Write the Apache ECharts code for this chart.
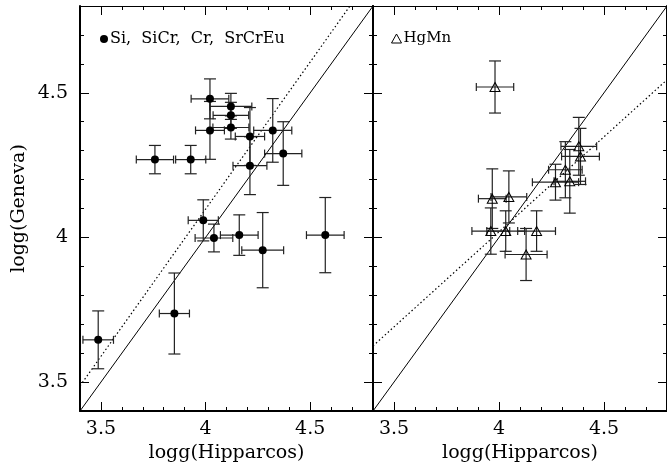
<!DOCTYPE html>
<html>
<head>
<meta charset="utf-8">
<title>logg Hipparcos vs Geneva</title>
<script src="https://cdn.jsdelivr.net/npm/echarts@6/dist/echarts.min.js"></script>
<style>
    html, body { margin: 0; padding: 0; background: #fff; }
    #chart { width: 667px; height: 468px; }
</style>
</head>
<body>
<div id="chart"></div>
<script>
// Si, SiCr, Cr, SrCrEu stars (left panel)
const siX    = [3.758, 3.929, 4.021, 4.021, 4.121, 4.121, 4.121, 4.212, 4.212, 4.321, 4.371, 3.989, 4.040, 4.161, 4.273, 4.572, 3.851, 3.487];
const siY    = [4.269, 4.269, 4.479, 4.370, 4.453, 4.422, 4.380, 4.349, 4.248, 4.370, 4.290, 4.059, 3.998, 4.008, 3.956, 4.008, 3.737, 3.646];
const siXErr = [0.089, 0.072, 0.090, 0.069, 0.100, 0.085, 0.086, 0.070, 0.081, 0.091, 0.089, 0.072, 0.090, 0.090, 0.100, 0.090, 0.072, 0.073];
const siYErr = [0.049, 0.049, 0.069, 0.100, 0.045, 0.045, 0.040, 0.100, 0.100, 0.110, 0.110, 0.071, 0.048, 0.070, 0.130, 0.130, 0.140, 0.100];

// HgMn stars (right panel)
const hgX    = [3.981, 3.968, 4.047, 4.269, 4.337, 4.316, 4.380, 4.388, 3.961, 4.032, 4.179, 4.129];
const hgY    = [4.520, 4.134, 4.140, 4.191, 4.194, 4.234, 4.315, 4.280, 4.022, 4.022, 4.022, 3.941];
const hgXErr = [0.089, 0.066, 0.085, 0.110, 0.075, 0.080, 0.085, 0.090, 0.090, 0.090, 0.090, 0.100];
const hgYErr = [0.090, 0.103, 0.090, 0.062, 0.110, 0.097, 0.100, 0.097, 0.080, 0.070, 0.070, 0.090];

// one-to-one line and the fitted relations (dotted)
const identityLine = [[3.4, 3.4], [4.8, 4.8]];
const siFitLine    = [[3.4, 3.487], [4.69, 4.8]];
const hgFitLine    = [[3.4, 3.625], [4.8, 4.545]];

// ticks
const majorTicks = [3.5, 4, 4.5];
const minorTicks = [3.4, 3.5, 3.6, 3.7, 3.8, 3.9, 4.0, 4.1, 4.2, 4.3, 4.4, 4.5, 4.6, 4.7, 4.8];

const FONT = 'DejaVu Serif';

const chart = echarts.init(document.getElementById('chart'), null, { renderer: 'canvas' });

// Four axes per side-pair: major ticks (with labels) and minor ticks, bottom/top or left/right
function buildAxes(dim, gridIndex, withLabels, name) {
    const first = dim === 'x' ? 'bottom' : 'left';
    const second = dim === 'x' ? 'top' : 'right';
    const base = {
        type: 'value',
        gridIndex: gridIndex,
        min: 3.4,
        max: 4.8,
        splitLine: { show: false }
    };
    return [
        Object.assign({}, base, {
            position: first,
            name: name || '',
            nameLocation: 'middle',
            nameGap: dim === 'x' ? 33 : 51,
            nameTextStyle: { fontFamily: FONT, fontSize: 19, color: '#000' },
            axisLine: { onZero: false, lineStyle: { color: '#000', width: 2 } },
            axisTick: { inside: true, length: 9, customValues: majorTicks, lineStyle: { color: '#000', width: 1 } },
            axisLabel: {
                show: withLabels,
                customValues: majorTicks,
                margin: dim === 'x' ? 9 : 12,
                fontFamily: FONT,
                fontSize: 19,
                color: '#000',
                formatter: v => String(v)
            }
        }),
        Object.assign({}, base, {
            position: first,
            axisLine: { show: false, onZero: false },
            axisTick: { inside: true, length: 4, customValues: minorTicks, lineStyle: { color: '#000', width: 1 } },
            axisLabel: { show: false }
        }),
        Object.assign({}, base, {
            position: second,
            axisLine: { onZero: false, lineStyle: { color: '#000', width: dim === 'x' ? 1.2 : 2 } },
            axisTick: { inside: true, length: 9, customValues: majorTicks, lineStyle: { color: '#000', width: 1 } },
            axisLabel: { show: false }
        }),
        Object.assign({}, base, {
            position: second,
            axisLine: { show: false, onZero: false },
            axisTick: { inside: true, length: 4, customValues: minorTicks, lineStyle: { color: '#000', width: 1 } },
            axisLabel: { show: false }
        })
    ];
}

// Error bars with end caps
function renderErrorBars(params, api) {
    const x = api.value(0), y = api.value(1);
    const dx = api.value(2), dy = api.value(3);
    const l = api.coord([x - dx, y]);
    const r = api.coord([x + dx, y]);
    const t = api.coord([x, y + dy]);
    const b = api.coord([x, y - dy]);
    const style = { stroke: '#222', lineWidth: 1.2, fill: null };
    const seg = (x1, y1, x2, y2) => ({ type: 'line', shape: { x1, y1, x2, y2 }, style: style });
    return {
        type: 'group',
        children: [
            seg(l[0], l[1], r[0], r[1]),
            seg(l[0], l[1] - 4, l[0], l[1] + 4),
            seg(r[0], r[1] - 4, r[0], r[1] + 4),
            seg(t[0], t[1], b[0], b[1]),
            seg(t[0] - 6, t[1], t[0] + 6, t[1]),
            seg(b[0] - 6, b[1], b[0] + 6, b[1])
        ]
    };
}

function zip4(a, b, c, d) {
    return a.map((v, i) => [v, b[i], c[i], d[i]]);
}

function lineSeries(data, axisIndex, dashed) {
    return {
        type: 'line',
        xAxisIndex: axisIndex,
        yAxisIndex: axisIndex,
        data: data,
        showSymbol: false,
        silent: true,
        z: 1,
        lineStyle: { color: '#000', width: dashed ? 1.2 : 1, type: dashed ? [1.5, 2.5] : 'solid' }
    };
}

const SI_NAME = 'Si,  SiCr,  Cr,  SrCrEu';
const HG_NAME = 'HgMn';

const option = {
    animation: false,
    backgroundColor: '#fff',
    grid: [
        { left: 80, top: 6, width: 293, height: 406 },
        { left: 373, top: 6, width: 296, height: 406 }
    ],
    legend: [
        {
            data: [SI_NAME],
            left: 95, top: 26,
            itemWidth: 8, itemHeight: 8, itemGap: 0,
            selectedMode: false,
            textStyle: { fontFamily: FONT, fontSize: 16, color: '#000', padding: [0, 0, 0, -3] }
        },
        {
            data: [HG_NAME],
            left: 386, top: 26,
            itemWidth: 10, itemHeight: 9, itemGap: 0,
            selectedMode: false,
            itemStyle: { borderWidth: 1 },
            textStyle: { fontFamily: FONT, fontSize: 15, color: '#000', padding: [0, 0, 0, -3] }
        }
    ],
    xAxis: [].concat(
        buildAxes('x', 0, true, 'logg(Hipparcos)'),
        buildAxes('x', 1, true, 'logg(Hipparcos)')
    ),
    yAxis: [].concat(
        buildAxes('y', 0, true, 'logg(Geneva)'),
        buildAxes('y', 1, false, '')
    ),
    series: [
        {
            type: 'custom',
            xAxisIndex: 0, yAxisIndex: 0,
            renderItem: renderErrorBars,
            encode: { x: 0, y: 1 },
            data: zip4(siX, siY, siXErr, siYErr),
            silent: true,
            z: 2
        },
        lineSeries(identityLine, 0, false),
        lineSeries(siFitLine, 0, true),
        {
            name: SI_NAME,
            type: 'scatter',
            xAxisIndex: 0, yAxisIndex: 0,
            symbol: 'circle',
            symbolSize: 8,
            itemStyle: { color: '#000', opacity: 1 },
            data: siX.map((v, i) => [v, siY[i]]),
            z: 3
        },
        {
            type: 'custom',
            xAxisIndex: 4, yAxisIndex: 4,
            renderItem: renderErrorBars,
            encode: { x: 0, y: 1 },
            data: zip4(hgX, hgY, hgXErr, hgYErr),
            silent: true,
            z: 2
        },
        lineSeries(identityLine, 4, false),
        lineSeries(hgFitLine, 4, true),
        {
            name: HG_NAME,
            type: 'scatter',
            xAxisIndex: 4, yAxisIndex: 4,
            symbol: 'triangle',
            symbolSize: [10, 9],
            itemStyle: { color: 'rgba(255,255,255,0)', borderColor: '#000', borderWidth: 1, opacity: 1 },
            data: hgX.map((v, i) => [v, hgY[i]]),
            z: 3
        }
    ]
};

chart.setOption(option);
</script>
</body>
</html>
